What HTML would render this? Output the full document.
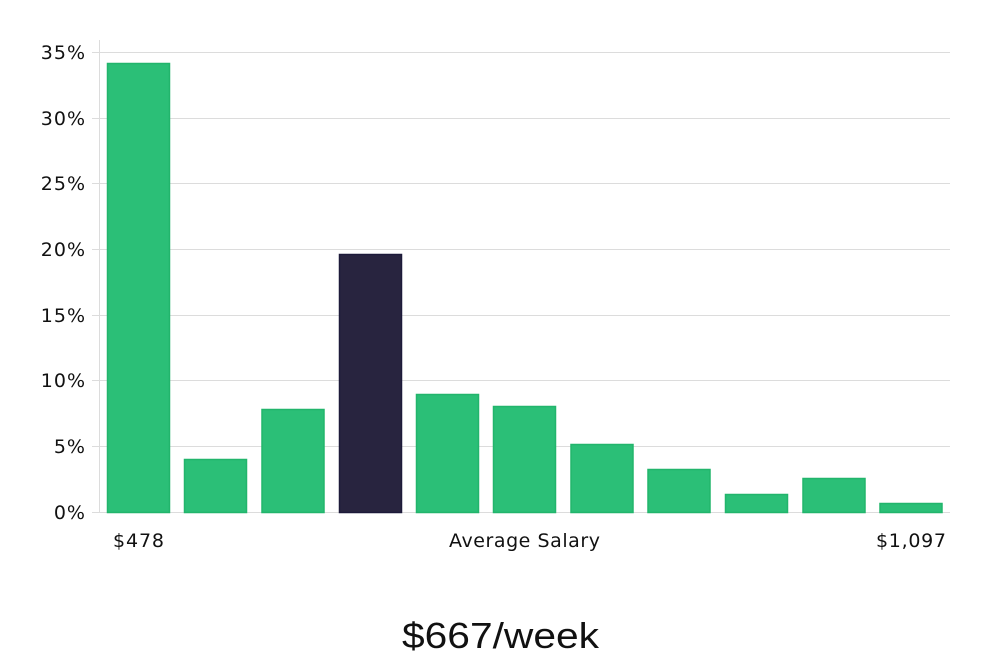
<!DOCTYPE html>
<html><head><style>body{margin:0;background:#fff}</style></head><body>
<svg width="1000" height="660" xmlns="http://www.w3.org/2000/svg" font-family="DejaVu Sans, sans-serif">
<rect width="1000" height="660" fill="#fff"/>
<g stroke="#dcdcdc" stroke-width="1">
<line x1="99.5" y1="40" x2="99.5" y2="512"/>
<line x1="92" y1="52.5" x2="950" y2="52.5"/>
<line x1="92" y1="118.5" x2="950" y2="118.5"/>
<line x1="92" y1="183.5" x2="950" y2="183.5"/>
<line x1="92" y1="249.5" x2="950" y2="249.5"/>
<line x1="92" y1="315.5" x2="950" y2="315.5"/>
<line x1="92" y1="380.5" x2="950" y2="380.5"/>
<line x1="92" y1="446.5" x2="950" y2="446.5"/>
<line x1="92" y1="512.5" x2="950" y2="512.5"/>
</g>
<g font-size="19" fill="#111" text-anchor="end" letter-spacing="1">
<text x="86" y="59">35%</text><text x="86" y="125">30%</text><text x="86" y="190">25%</text>
<text x="86" y="256">20%</text><text x="86" y="322">15%</text><text x="86" y="387">10%</text>
<text x="86" y="453">5%</text><text x="86" y="519">0%</text>
</g>
<g fill="#2bbf77" stroke="#22b56c" stroke-width="1.5">
<rect x="107.5" y="63.5" width="62" height="449"/>
<rect x="184.5" y="459.5" width="62" height="53"/>
<rect x="262" y="409.5" width="62" height="103"/>
<rect x="416.5" y="394.5" width="62" height="118"/>
<rect x="493.5" y="406.5" width="62" height="106"/>
<rect x="571" y="444.5" width="62" height="68"/>
<rect x="648" y="469.5" width="62" height="43"/>
<rect x="725.5" y="494.5" width="62" height="18"/>
<rect x="803" y="478.5" width="62" height="34"/>
<rect x="880" y="503.5" width="62" height="9"/>
</g>
<rect x="339.5" y="254.5" width="62" height="258" fill="#28243f" stroke="#1d1a3a" stroke-width="1.5"/>
<g font-size="19" fill="#111">
<text x="113" y="547" textLength="51" lengthAdjust="spacing">$478</text>
<text x="449" y="547" textLength="151" lengthAdjust="spacing">Average Salary</text>
<text x="876" y="547" textLength="70" lengthAdjust="spacing">$1,097</text>
</g>
<text x="402" y="648" font-size="36" fill="#111" font-family="Liberation Sans Narrow, Liberation Sans, sans-serif" textLength="197" lengthAdjust="spacingAndGlyphs">$667/week</text>
</svg>
</body></html>
